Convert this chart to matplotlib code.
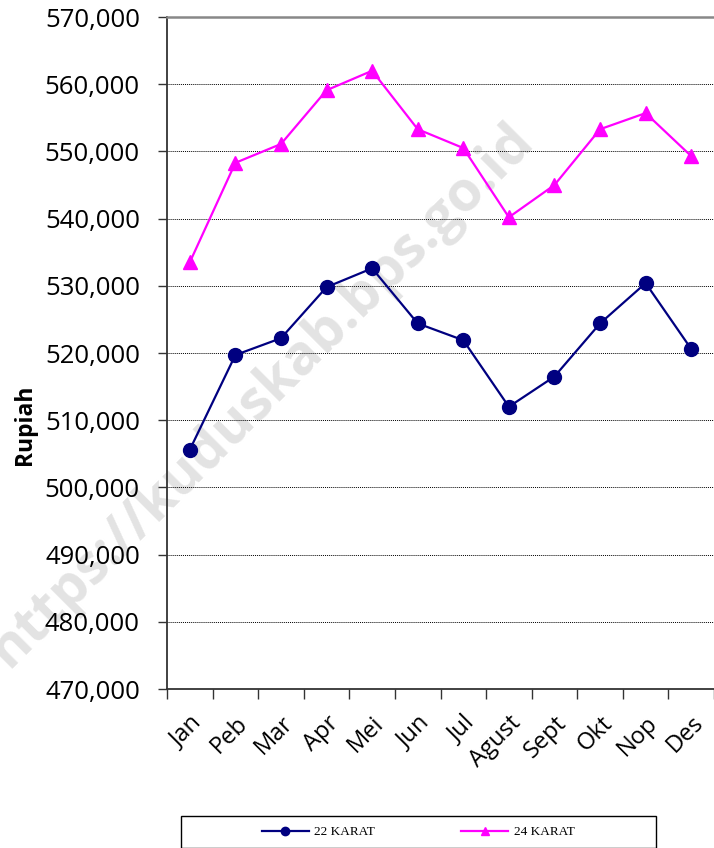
import numpy as np
import matplotlib
matplotlib.use('Agg')
import matplotlib.pyplot as plt
from matplotlib.patches import Rectangle

# data
months = ['Jan', 'Peb', 'Mar', 'Apr', 'Mei', 'Jun', 'Jul', 'Agust', 'Sept', 'Okt', 'Nop', 'Des']
karat22 = [505600, 519700, 522200, 529800, 532600, 524400, 521900, 512000, 516500, 524400, 530400, 520600]
karat24 = [533500, 548300, 551100, 559100, 562000, 553300, 550500, 540200, 545000, 553300, 555700, 549300]
yticks = np.arange(470000, 570001, 10000)

plt.rcParams['font.family'] = ['Open Sans', 'DejaVu Sans']

fig = plt.figure(figsize=(7.14, 8.48), dpi=100)
ax = fig.add_axes([167/714, 1 - 689/848, 1 - 167/714, (689 - 17)/848])
ax.patch.set_alpha(0)

x = np.arange(len(months))
ax.plot(x, karat22, color='#000080', lw=1.6, marker='o', ms=10, label='22 KARAT', zorder=4)
ax.plot(x, karat24, color='#FF00FF', lw=1.6, marker='^', ms=10, label='24 KARAT', zorder=4)

ax.set_xlim(-0.5, len(months) - 0.5)
ax.set_ylim(470000, 570000)
ax.set_yticks(yticks)
ax.set_yticklabels([f'{v:,}' for v in yticks], fontsize=18.5)
ax.yaxis.grid(True, color='black', ls=(0, (1, 1)), lw=0.7)
ax.set_axisbelow(True)

ax.set_xticks(x)
ax.set_xticklabels(months, rotation=45, ha='right', rotation_mode='anchor', fontsize=17)
ax.tick_params(axis='x', which='major', length=0, pad=16)
ax.set_xticks(np.arange(-0.5, len(months), 1), minor=True)
ax.tick_params(axis='x', which='minor', length=7, width=1, color='#333333')
ax.tick_params(axis='y', length=6.5, width=1, color='#333333', pad=13)

for s in ['left', 'bottom']:
    ax.spines[s].set_color('#333333')
    ax.spines[s].set_linewidth(1.3)
ax.spines['right'].set_visible(False)
ax.spines['top'].set_color('#888888')
ax.spines['top'].set_linewidth(1.8)

fig.text(25/714, 1 - 425/848, 'Rupiah', rotation=90, fontsize=16.5, fontweight='bold',
         ha='center', va='center')

# watermark
fig.text(262/714, 1 - 395/848, 'https://kuduskab.bps.go.id', rotation=45, fontsize=40,
         fontweight='bold', color='#dedede', alpha=0.85, ha='center', va='center', zorder=-1)

# legend box
fig.patches.append(Rectangle((181/714, 0), (656 - 181)/714, (848 - 816)/848,
                             transform=fig.transFigure, fill=False, ec='black', lw=1))
leg = fig.legend(loc='center', bbox_to_anchor=(418/714, 1 - 832/848), ncol=2, frameon=False,
                 prop={'family': 'Liberation Serif', 'size': 9.5}, handlelength=3.6,
                 columnspacing=6.5, handletextpad=0.4, markerscale=0.6)

fig.savefig('out.png', dpi=100)
